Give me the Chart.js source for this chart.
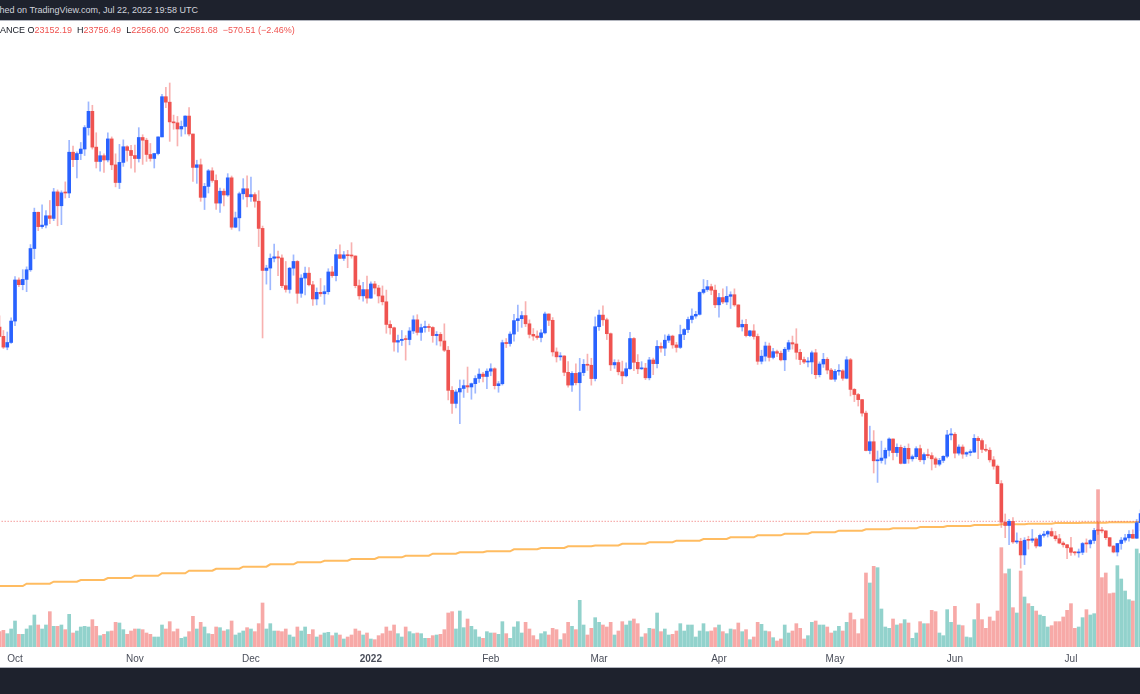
<!DOCTYPE html>
<html>
<head>
<meta charset="utf-8">
<title>BTCUSDT 1D</title>
<script src="https://cdn.jsdelivr.net/npm/chart.js@4.4.1/dist/chart.umd.min.js"></script>
<style>
  html, body { margin: 0; padding: 0; width: 1140px; height: 694px; overflow: hidden; background: #fff; }
  .bar { position: absolute; left: 0; width: 1140px; background: #1e222d; }
  #top { top: 0; height: 20px; border-bottom: 1px solid #b2b5be; z-index: 3; }
  #bottom { top: 667px; height: 27px; border-top: 1px solid #b2b5be; z-index: 3; }
  .line { position: absolute; white-space: nowrap; font-family: "Liberation Sans", Arial, sans-serif; font-size: 9px; }
  #pub { top: 5px; color: #d1d4dc; }
  #legend { top: 25px; color: #131722; z-index: 2; }
  #legend .v { color: #ef5350; }
  #legend .k { margin-left: 5px; }
  #box { position: absolute; left: 0; top: 21px; width: 1140px; height: 650px; }
</style>
</head>
<body>
<div id="top" class="bar"><div id="pub" class="line"><span class="cut">Publis</span>hed on TradingView.com, Jul 22, 2022 19:58 UTC</div></div>
<div id="box"><canvas id="mycanvas" width="1140" height="650"></canvas></div>
<div id="legend" class="line"></div>
<div id="bottom" class="bar"></div>
<script>
// BTCUSDT daily, Binance, 26 Sep 2021 .. 22 Jul 2022 (one entry per day)
var firstDay = Date.UTC(2021, 8, 26);

var open = [
  42670, 43160, 42170, 41030, 41520,
  43790, 48140, 47640, 48200, 49220, 51470, 55310, 53790, 53950, 54940, 54660, 57470, 56000, 57370, 57350, 61670, 60880, 61530, 62010, 64280, 66000, 62210, 60690, 61300, 60850, 63080, 60330, 58460, 60590, 62250, 61860,
  61320, 61000, 63230, 62940, 61430, 61010, 61530, 63290, 67550, 66970, 64880, 64780, 64130, 64400, 65500, 63600, 60060, 60340, 56890, 58050, 59700, 58680, 56280, 57540, 57140, 58960, 53730, 54720, 57270, 57800,
  56950, 57180, 56480, 53600, 49150, 49400, 50440, 50590, 50470, 47540, 47140, 49390, 50100, 46730, 48340, 48860, 47630, 46130, 46830, 46680, 46900, 48990, 48600, 50820, 50430, 50800, 50710, 50680, 47540, 46460, 47120,
  46220, 47720, 47290, 46450, 45830, 43430, 43080, 41560, 41730, 41860, 41830, 42740, 43920, 42590, 43100, 43180, 43110, 42250, 42380, 41680, 40700, 36450, 35070, 36280, 36650, 36950, 36810, 37160, 37710, 38170, 37920,
  38480, 38740, 36950, 37150, 41500, 41410, 42410, 43840, 44040, 44370, 43500, 42380, 42200, 42050, 42540, 44540, 43870, 40520, 40000, 40090, 38360, 37010, 38250, 37260, 38330, 39210, 39110, 37700,
  43190, 44420, 43920, 42450, 39150, 39400, 38420, 37990, 38740, 41940, 39420, 38730, 38810, 37780, 39670, 39280, 41110, 40920, 41760, 42200, 41260, 41000, 42360, 42890, 43960, 44320, 44500, 46820, 47130, 47430, 47060,
  45510, 46280, 45810, 46410, 46580, 45500, 43170, 43440, 42250, 42750, 42160, 39530, 40070, 41150, 39940, 40550, 40380, 39680, 40800, 41500, 41360, 40480, 39710, 39450, 39460, 40430, 38110, 39240, 39740, 38600,
  37630, 38470, 38520, 37730, 39690, 36550, 36010, 35470, 34040, 30080, 31010, 28990, 29030, 29280, 30100, 31300, 29860, 30420, 28720, 30310, 29200, 29430, 30280, 29100, 29650, 29540, 29200, 28630, 29030, 29470, 31730,
  31800, 29800, 30450, 29700, 29860, 29910, 31370, 31130, 30200, 30110, 29090, 28420, 26570, 22490, 22140, 22580, 20400, 20470, 19020, 20580, 20570, 20720, 19970, 21090, 21230, 21500, 21040, 20740, 20280, 20100,
  19780, 19300, 19240, 19300, 20230, 20190, 20550, 21620, 21580, 21570, 20850, 19960, 19330, 20230, 20590, 20830, 21200, 20790, 22430, 23400, 23220, 23152.19
];
var high = [
  43920, 44350, 42790, 42630, 44130,
  48500, 48360, 49230, 49530, 51890, 55750, 55330, 56100, 55490, 56560, 57840, 57680, 57580, 58530, 62930, 62330, 61720, 62700, 64490, 67000, 66640, 63730, 61750, 61490, 63710, 63290, 61500, 62500, 62980, 62360, 62400,
  62420, 64270, 63520, 63150, 62600, 61560, 63290, 67790, 68530, 69000, 65600, 65460, 64980, 65530, 66400, 63600, 60820, 60950, 58370, 59850, 60030, 59270, 57880, 57800, 59400, 59150, 55330, 57450, 58870, 59180,
  59050, 57380, 57600, 53850, 49700, 50900, 51940, 51200, 50800, 50100, 49480, 50800, 50200, 48700, 49500, 49440, 47990, 47300, 48300, 47540, 49330, 49570, 51380, 51870, 51160, 51280, 52090, 50700, 48140, 47900, 48550,
  47950, 47990, 47570, 47510, 47070, 43820, 43150, 42300, 42790, 42250, 43100, 44350, 44460, 43460, 43800, 43480, 43200, 42680, 42580, 43500, 41100, 36840, 36500, 37550, 37550, 38920, 37230, 38000, 38720, 38360, 38740,
  39270, 38850, 37390, 41770, 41940, 42650, 44500, 45490, 44800, 45850, 43920, 43000, 42750, 42880, 44750, 44560, 44160, 40950, 40450, 40130, 39500, 38430, 39250, 39840, 39720, 40290, 39850, 44230,
  44950, 45400, 44100, 42530, 39700, 39680, 39550, 39360, 42590, 42040, 40240, 39490, 39310, 39950, 39870, 41720, 41480, 42330, 42400, 42300, 41540, 43360, 43000, 44220, 45090, 44820, 46890, 48190, 48100, 47700, 47600,
  46720, 47210, 47440, 46890, 47200, 45510, 43900, 43970, 42800, 43410, 42420, 40700, 41560, 41460, 40890, 40710, 40600, 41000, 41760, 42200, 42980, 40800, 39980, 39930, 40620, 40800, 39470, 40370, 39920, 38790,
  38680, 39170, 38650, 40020, 39840, 36650, 36130, 35510, 34250, 32660, 32190, 30030, 31080, 30340, 31420, 31330, 30790, 30660, 30540, 30780, 29610, 30480, 30660, 29830, 30230, 29850, 29380, 29250, 29530, 32220, 32400,
  31980, 30690, 30680, 29940, 30170, 31770, 31560, 31330, 30700, 30380, 29440, 28550, 26900, 23360, 22780, 22980, 21360, 20790, 20850, 21000, 21720, 20870, 21230, 21520, 21600, 21870, 21520, 21200, 20440, 20140,
  20880, 19390, 19650, 20350, 20720, 20660, 21830, 22500, 21950, 21600, 20860, 20000, 20250, 20870, 21200, 21590, 21690, 22780, 23800, 24280, 23440, 23756.49
];
var low = [
  40760, 42100, 40880, 40750, 41410,
  43290, 47430, 47100, 46900, 49050, 50380, 53360, 53600, 53660, 54100, 54420, 53880, 54000, 56820, 56850, 60150, 58960, 60880, 61320, 63480, 62000, 60000, 59670, 59520, 60650, 59820, 58000, 57820, 60170, 60720, 59990,
  59550, 60630, 60380, 60700, 60720, 60000, 61380, 63290, 66380, 62820, 64100, 62330, 63360, 63600, 63400, 58570, 58370, 56470, 55600, 57350, 58490, 55600, 55300, 55990, 57000, 53500, 53670, 53330, 56690, 55880,
  56460, 55840, 51680, 42000, 47700, 47100, 50050, 48600, 47320, 46850, 46750, 48640, 45670, 46300, 46550, 47510, 45450, 45500, 46400, 45560, 46630, 48420, 48050, 50400, 50200, 49440, 50450, 47310, 46100, 45900, 45680,
  46200, 46650, 45700, 45500, 42500, 42400, 40610, 40500, 41200, 39650, 41270, 42460, 42310, 41730, 42600, 42690, 41540, 41250, 41140, 40550, 35440, 34010, 34600, 32920, 35700, 36230, 35510, 36150, 37300, 37350, 36630,
  38000, 36590, 36250, 37010, 40980, 41120, 41660, 42700, 43120, 43200, 42000, 41750, 41850, 41570, 42430, 43310, 40080, 39450, 39640, 38000, 36800, 36350, 37030, 34320, 38010, 38560, 37000, 37450,
  42800, 43330, 41830, 38550, 38780, 38090, 37150, 37870, 38660, 38540, 38220, 38660, 37580, 37560, 38110, 38830, 40500, 40130, 41510, 40910, 40500, 40880, 41830, 42570, 43580, 44080, 44420, 46660, 46930, 46580, 45200,
  44200, 45630, 45520, 45120, 45350, 43120, 42730, 42100, 42130, 41870, 39200, 39250, 39550, 39550, 39770, 40010, 39560, 38540, 40570, 40820, 39750, 39180, 39290, 38930, 38200, 37700, 37870, 38880, 38200, 37580,
  37390, 38050, 37510, 37670, 35860, 35260, 34790, 33710, 30030, 29730, 27700, 26700, 28750, 28630, 29480, 29090, 29450, 28650, 28680, 28730, 28950, 29230, 28900, 28670, 29300, 28020, 28280, 28450, 28800, 29300, 31200,
  29300, 29590, 29250, 29450, 29520, 29880, 29220, 29850, 29950, 28850, 28100, 26560, 21930, 20850, 20100, 20250, 20230, 17620, 18000, 19640, 20350, 19770, 19900, 20890, 20920, 20960, 20510, 20200, 19850, 18630,
  18970, 19000, 18780, 19050, 19300, 19760, 20250, 21190, 21350, 20650, 19880, 19240, 18910, 19620, 20380, 20480, 20760, 20760, 21580, 22900, 22340, 22566.00
];
var close = [
  43160, 42170, 41030, 41520, 43790,
  48140, 47640, 48200, 49220, 51470, 55310, 53790, 53950, 54940, 54660, 57470, 56000, 57370, 57350, 61670, 60880, 61530, 62010, 64280, 66000, 62210, 60690, 61300, 60850, 63080, 60330, 58460, 60590, 62250, 61860, 61320,
  61000, 63230, 62940, 61430, 61010, 61530, 63290, 67550, 66970, 64880, 64780, 64130, 64400, 65500, 63600, 60060, 60340, 56890, 58050, 59700, 58680, 56280, 57540, 57140, 58960, 53730, 54720, 57270, 57800, 56950,
  57180, 56480, 53600, 49150, 49400, 50440, 50590, 50470, 47540, 47140, 49390, 50100, 46730, 48340, 48860, 47630, 46130, 46830, 46680, 46900, 48990, 48600, 50820, 50430, 50800, 50710, 50680, 47540, 46460, 47120, 46220,
  47720, 47290, 46450, 45830, 43430, 43080, 41560, 41730, 41860, 41830, 42740, 43920, 42590, 43100, 43180, 43110, 42250, 42380, 41680, 40700, 36450, 35070, 36280, 36650, 36950, 36810, 37160, 37710, 38170, 37920, 38480,
  38740, 36950, 37150, 41500, 41410, 42410, 43840, 44040, 44370, 43500, 42380, 42200, 42050, 42540, 44540, 43870, 40520, 40000, 40090, 38360, 37010, 38250, 37260, 38330, 39210, 39110, 37700, 43190,
  44420, 43920, 42450, 39150, 39400, 38420, 37990, 38740, 41940, 39420, 38730, 38810, 37780, 39670, 39280, 41110, 40920, 41760, 42200, 41260, 41000, 42360, 42890, 43960, 44320, 44500, 46820, 47130, 47430, 47060, 45510,
  46280, 45810, 46410, 46580, 45500, 43170, 43440, 42250, 42750, 42160, 39530, 40070, 41150, 39940, 40550, 40380, 39680, 40800, 41500, 41360, 40480, 39710, 39450, 39460, 40430, 38110, 39240, 39740, 38600, 37630,
  38470, 38520, 37730, 39690, 36550, 36010, 35470, 34040, 30080, 31010, 28990, 29030, 29280, 30100, 31300, 29860, 30420, 28720, 30310, 29200, 29430, 30280, 29100, 29650, 29540, 29200, 28630, 29030, 29470, 31730, 31800,
  29800, 30450, 29700, 29860, 29910, 31370, 31130, 30200, 30110, 29090, 28420, 26570, 22490, 22140, 22580, 20400, 20470, 19020, 20580, 20570, 20720, 19970, 21090, 21230, 21500, 21040, 20740, 20280, 20100, 19780,
  19300, 19240, 19300, 20230, 20190, 20550, 21620, 21580, 21570, 20850, 19960, 19330, 20230, 20590, 20830, 21200, 20790, 22430, 23400, 23220, 23152.19, 22581.68
];
// volume, thousand BTC
var volume = [
  18, 23, 25, 20, 27,
  39, 19, 19, 27, 32, 48, 33, 27, 33, 53, 31, 31, 33, 26, 49, 21, 24, 30, 31, 30, 41, 31, 17, 19, 23, 24, 37, 36, 26, 19, 24,
  27, 27, 26, 21, 19, 15, 15, 33, 27, 38, 23, 27, 13, 15, 23, 46, 27, 37, 30, 20, 19, 30, 29, 24, 26, 39, 18, 21, 24, 29,
  27, 23, 35, 66, 27, 35, 24, 24, 23, 27, 18, 15, 30, 24, 30, 19, 26, 15, 18, 21, 22, 17, 21, 18, 12, 15, 18, 27, 24, 18, 21,
  12, 11, 17, 20, 30, 24, 33, 20, 15, 30, 23, 20, 21, 20, 13, 13, 17, 18, 19, 26, 51, 53, 27, 54, 29, 42, 31, 26, 15, 13, 23,
  21, 21, 19, 38, 20, 13, 30, 38, 21, 37, 27, 17, 11, 20, 23, 18, 28, 26, 11, 20, 37, 31, 26, 70, 33, 18, 28, 44,
  37, 33, 30, 37, 18, 24, 38, 33, 39, 42, 35, 15, 20, 28, 27, 51, 23, 27, 18, 19, 24, 35, 24, 33, 33, 15, 24, 35, 23, 24, 29,
  33, 23, 20, 27, 26, 36, 23, 26, 11, 15, 37, 34, 24, 23, 14, 9, 12, 33, 21, 24, 35, 28, 12, 17, 37, 39, 33, 33, 30, 21,
  24, 31, 24, 37, 51, 41, 20, 42, 111, 96, 121, 119, 57, 30, 28, 42, 33, 35, 41, 36, 13, 21, 38, 35, 35, 55, 53, 21, 17, 56, 37,
  61, 33, 32, 15, 14, 41, 65, 41, 28, 45, 39, 54, 149, 110, 117, 59, 51, 114, 75, 65, 61, 54, 48, 46, 30, 32, 38, 38, 45, 55,
  65, 28, 30, 44, 56, 48, 50, 236, 104, 111, 80, 81, 122, 102, 84, 71, 69, 147, 140, 125, 105, 95
];
// 200-week moving average, one value per week (weeks start on Monday, first is 20 Sep 2021)
var ma200w = [
  15650, 15730, 15975, 16190, 16370, 16580, 16820, 17080, 17350, 17560, 17780, 18030, 18240, 18410, 18590,
  18770, 18940, 19150, 19300, 19410, 19620, 19760, 19940, 20030, 20210, 20360, 20530, 20710, 20890, 21100,
  21270, 21420, 21590, 21740, 21840, 21980, 22090, 22190, 22270, 22330, 22400, 22440, 22480, 22510
];
var monthLabels = ['Oct', 'Nov', 'Dec', '2022', 'Feb', 'Mar', 'Apr', 'May', 'Jun', 'Jul'];

var upBody = '#2962ff', downBody = '#ef5350';
var upWick = 'rgba(41, 98, 255, 0.45)', downWick = 'rgba(239, 83, 80, 0.45)';
var upVol = 'rgba(38, 166, 154, 0.5)', downVol = 'rgba(239, 83, 80, 0.5)';

var n = close.length;
var bodies = [], wicks = [], vols = [], ma = [], priceLine = [];
var bodyCol = [], wickCol = [], volCol = [];
var monthTicks = [];
var week = 0;
for (var i = 0; i < n; i++) {
  var d = new Date(firstDay + i * 86400000);
  if (i > 0 && d.getUTCDay() === 1) week++;
  if (d.getUTCDate() === 1) monthTicks.push(i);
  var up = close[i] >= open[i];
  bodies.push({ x: i, y: [open[i], close[i]] });
  wicks.push({ x: i, y: [low[i], high[i]] });
  vols.push({ x: i, y: volume[i] });
  ma.push({ x: i, y: ma200w[week] });
  bodyCol.push(up ? upBody : downBody);
  wickCol.push(up ? upWick : downWick);
  volCol.push(up ? upVol : downVol);
}
var last = n - 1;
priceLine.push({ x: 0, y: close[last] }, { x: last, y: close[last] });

// legend row
var chg = close[last] - close[last - 1];
var pct = chg / close[last - 1] * 100;
function fmt(v) { return v.toFixed(2); }
function sgn(v) { return (v < 0 ? '\u2212' : '+') + fmt(Math.abs(v)); }
document.getElementById('legend').innerHTML =
  '<span class="cut">BIN</span>ANCE ' +
  'O<span class="v">' + fmt(open[last]) + '</span>' +
  '<span class="k">H</span><span class="v">' + fmt(high[last]) + '</span>' +
  '<span class="k">L</span><span class="v">' + fmt(low[last]) + '</span>' +
  '<span class="k">C</span><span class="v">' + fmt(close[last]) + '</span>' +
  '<span class="v k">' + sgn(chg) + ' (' + sgn(pct) + '%)</span>';

// push the cut-off prefixes out of the window on the left
document.querySelectorAll('.line').forEach(function (el) {
  var cut = el.querySelector('.cut');
  el.style.left = (cut ? -cut.offsetWidth : 0) + 'px';
});

var ctx = document.getElementById('mycanvas');
var chart = new Chart(ctx, {
  type: 'bar',
  data: {
    datasets: [
      {
        type: 'line', label: '200W MA', data: ma, order: 4,
        borderColor: 'rgba(255, 160, 30, 0.7)', borderWidth: 2,
        pointRadius: 0, tension: 0, yAxisID: 'y'
      },
      {
        type: 'line', label: 'Last price', data: priceLine, order: 3,
        borderColor: 'rgba(239, 83, 80, 0.85)', borderWidth: 1, borderDash: [1, 2],
        pointRadius: 0, yAxisID: 'y'
      },
      {
        label: 'Volume', data: vols, order: 5, yAxisID: 'yv',
        backgroundColor: volCol, barThickness: 3, grouped: false, borderWidth: 0
      },
      {
        label: 'Wicks', data: wicks, order: 2, yAxisID: 'y',
        backgroundColor: wickCol, barThickness: 1, grouped: false, borderWidth: 0
      },
      {
        label: 'Candles', data: bodies, order: 1, yAxisID: 'y',
        backgroundColor: bodyCol, barThickness: 3, grouped: false, borderWidth: 0, minBarLength: 1
      }
    ]
  },
  options: {
    responsive: false,
    devicePixelRatio: 1,
    animation: false,
    events: [],
    layout: { padding: 0 },
    plugins: { legend: { display: false }, tooltip: { enabled: false } },
    scales: {
      x: {
        type: 'linear', min: 1.12, max: 295.85, offset: false,
        grid: { display: false, drawTicks: false, offset: false },
        border: { display: false },
        afterBuildTicks: function (scale) {
          scale.ticks = monthTicks.map(function (v) { return { value: v }; });
        },
        ticks: {
          autoSkip: false, maxRotation: 0, padding: 6, color: '#4a4e5a',
          font: function (c) {
            return { family: '"Liberation Sans", Arial, sans-serif', size: 10,
                     weight: c.tick && c.tick.label === '2022' ? 'bold' : 'normal' };
          },
          callback: function (value, index) { return monthLabels[index]; }
        }
      },
      y: { type: 'linear', display: false, min: 9272, max: 75566 },
      yv: { type: 'linear', display: false, min: 0, max: 939 }
    }
  }
});
</script>
</body>
</html>
